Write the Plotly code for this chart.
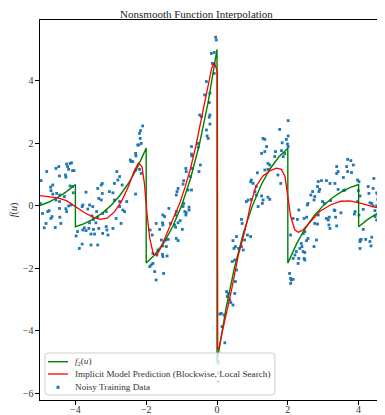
import plotly.graph_objects as go

# True nonsmooth function f2(u), sampled (duplicate u at jumps)
f2_u = [-5.0, -4.75, -4.5, -4.25, -4.0, -4.0, -3.75, -3.5, -3.25, -3.0, -2.75, -2.5, -2.25, -2.0,
        -2.0, -1.75, -1.5, -1.25, -1.0, -0.75, -0.5, -0.25, 0.0, 0.0, 0.25, 0.5, 0.75, 1.0, 1.25,
        1.5, 1.75, 2.0, 2.0, 2.25, 2.5, 2.75, 3.0, 3.25, 3.5, 3.75, 4.0, 4.0, 4.25, 4.5, 4.75, 5.0]
f2_val = [0.0, 0.116, 0.264, 0.448, 0.677, -0.677, -0.575, -0.434, -0.246, 0.0, 0.316, 0.716, 1.218, 1.839,
          -1.839, -1.563, -1.181, -0.669, 0.0, 0.859, 1.947, 3.309, 5.0, -5.0, -3.309, -1.947, -0.859, 0.0, 0.669,
          1.181, 1.563, 1.839, -1.839, -1.218, -0.716, -0.316, 0.0, 0.246, 0.434, 0.575, 0.677, -0.677, -0.448, -0.264, -0.116, 0.0]

# Implicit model prediction
pred_u = [-5.0, -4.75, -4.5, -4.25, -4.0, -3.75, -3.5, -3.3, -3.1, -2.9, -2.7, -2.5, -2.35, -2.22, -2.12,
          -2.05, -1.98, -1.9, -1.8, -1.7, -1.6, -1.5, -1.35, -1.2, -1.05, -0.9, -0.75, -0.6, -0.5, -0.35,
          -0.25, -0.15, -0.08, -0.03, 0.01, 0.02, 0.06, 0.12, 0.22, 0.4, 0.6, 0.8, 0.95, 1.1, 1.3, 1.5,
          1.68, 1.82, 1.92, 2.0, 2.08, 2.2, 2.3, 2.43, 2.67, 2.9, 3.2, 3.5, 3.75, 4.05, 4.4, 4.75, 5.0]
pred_val = [0.32, 0.29, 0.25, 0.16, -0.03, -0.22, -0.37, -0.44, -0.40, -0.2, 0.13, 0.62, 1.08, 1.36, 1.25,
            0.7, -0.24, -1.05, -1.55, -1.57, -1.38, -1.12, -0.7, -0.3, 0.08, 0.6, 1.18, 1.9, 2.45, 3.3,
            3.9, 4.4, 4.58, 4.45, 4.3, -4.62, -4.55, -4.19, -3.7, -2.75, -1.6, -0.75, 0.05, 0.62, 0.95, 1.12,
            1.2, 1.16, 0.93, 0.35, -0.35, -0.78, -0.85, -0.78, -0.46, -0.19, 0.02, 0.14, 0.15, 0.08, -0.03, -0.14, -0.2]

# Noisy training data
noisy_u = [
    -4.99, -4.97, -4.93, -4.88, -4.83, -4.81, -4.78, -4.74, -4.70, -4.69, -4.69, -4.66, -4.64, -4.64,
    -4.57, -4.55, -4.55, -4.53, -4.47, -4.45, -4.45, -4.45, -4.44, -4.44, -4.41, -4.31, -4.28, -4.27,
    -4.27, -4.25, -4.25, -4.22, -4.19, -4.19, -4.15, -4.15, -4.12, -4.11, -4.08, -4.08, -4.06, -4.04,
    -3.98, -3.94, -3.89, -3.81, -3.81, -3.79, -3.79, -3.75, -3.70, -3.70, -3.65, -3.62, -3.60, -3.60,
    -3.56, -3.56, -3.53, -3.51, -3.49, -3.49, -3.46, -3.42, -3.40, -3.37, -3.37, -3.37, -3.34, -3.34,
    -3.27, -3.27, -3.24, -3.24, -3.23, -3.23, -3.13, -3.13, -3.11, -3.08, -3.04, -2.94, -2.94, -2.90,
    -2.90, -2.85, -2.83, -2.80, -2.75, -2.75, -2.75, -2.71, -2.68, -2.66, -2.61, -2.55, -2.45, -2.43,
    -2.38, -2.30, -2.29, -2.30, -2.30, -2.24, -2.21, -2.19, -2.17, -2.19, -2.16, -2.14, -2.14, -2.10,
    -1.89, -1.83, -1.72, -1.81, -1.67, -1.70, -1.90, -1.81, -1.86, -1.76, -1.72,
    -0.04, -0.02, -0.16, -0.08, -0.13, -0.09, -0.08, -0.30, -0.35, -0.20, -0.22, -0.49, -0.44, -0.20,
    -0.22, -0.20, -0.30, -0.28, -0.25, -0.55, -0.53, -0.72, -0.72, -0.71, -0.88, -0.87, -0.70, -0.47,
    -0.51, -0.75, -0.94, -0.96, -0.82, -0.72, -1.10, -1.13, -1.15, -1.36, -0.96, -0.94, -0.79, -0.79,
    -0.87, -1.15, -1.17, -0.91, -0.88, -1.04, -1.10, -0.98, -1.53, -1.48, -1.54, -1.53, -1.62, -1.32,
    -1.20, -1.17, -1.15, -1.10, -1.38, -1.45, -1.57, -1.53, -1.43, -1.54, -1.53, -1.41, -1.51,
    1.30, 1.35, 1.40, 1.35, 1.26, 1.44, 1.49, 1.35, 1.44, 1.14, 0.97, 1.02, 0.95, 1.11, 1.07, 1.11,
    1.26, 1.30, 1.44, 1.49, 1.28, 0.88, 0.83, 0.97, 1.16, 0.69, 0.71, 0.55, 0.86, 0.95, 0.78, 0.45,
    0.52, 0.48, 0.61, 0.69, 0.74, 0.43, 0.50, 0.55, 0.52, 0.27, 0.31, 0.50, 0.29, 0.36, 0.45, 0.39,
    0.08, 0.12, 0.20, 0.14, 0.22, 0.03, 0.03, 0.03, 0.03,
    2.01, 1.77, 2.01, 1.96, 1.84, 1.99, 2.01, 1.65, 1.82, 1.63, 1.87, 1.91, 1.72, 1.80, 2.86, 2.95,
    3.09, 3.19, 2.84, 2.88, 2.76, 2.74, 2.65, 2.57, 2.55, 3.03, 2.31, 3.31, 2.15, 2.27, 2.46, 2.53,
    2.86, 3.09, 3.14, 2.76, 2.84, 3.16, 3.19, 2.48, 2.44, 2.08, 2.57, 2.53, 2.81, 2.38, 2.40, 2.34,
    2.74, 2.24, 2.20, 2.43, 2.48, 2.31, 2.29, 2.15, 2.46, 2.48, 2.05, 2.08, 2.10, 2.15, 2.08,
    2.70, 2.90, 2.98, 3.21, 3.17,
    3.69, 3.78, 3.85, 3.38, 3.42, 3.38, 3.66, 3.69, 3.80, 3.57, 3.97, 4.01, 3.33, 3.42, 3.57, 3.61,
    3.99, 4.04, 4.41, 4.29, 4.51, 4.54, 4.54, 4.32, 4.37, 4.65, 3.97, 3.33, 3.35, 3.50, 3.90, 3.88,
    4.01, 4.13, 4.41, 4.51, 4.46, 4.60, 4.54, 4.46, 4.51, 4.65, 4.70, 3.38, 4.13, 4.58, 4.04, 4.07,
    4.04, 4.20, 4.37, 4.32, 4.35, 4.04, 4.43, 4.27]
noisy_f = [
    0.07, 0.80, -0.25, -0.71, -0.57, 1.09, -0.19, -0.16, 0.59, 0.48, -0.41, -0.35, 0.66, 0.37,
    -0.70, 1.19, 0.18, 0.39, 1.25, 0.95, 0.13, -0.09, 0.34, -0.37, -0.57, 0.29, 0.98, 0.91,
    -0.10, 1.33, -0.19, 1.25, 1.16, -0.01, 1.35, 0.63, 0.02, 1.37, 1.12, 0.61, 0.41, 1.12,
    -0.97, -0.83, -1.37, -0.03, -1.23, 0.02, -0.78, -0.71, 0.43, -0.80, -0.11, -0.73, 0.02, -0.55,
    -0.91, -1.26, -0.33, -0.03, -0.44, -0.76, -0.91, -0.55, -0.19, 0.55, -0.37, -1.26, 0.23, -0.73,
    0.66, 0.18, 0.71, 0.39, -0.25, -0.89, -0.19, -0.67, -0.78, -0.94, 0.45, 0.41, -0.73, 0.71,
    0.18, -0.41, 1.09, 0.82, 0.93, 0.13, -0.03, -0.57, 0.66, -0.14, -0.19, 0.13, 1.46, 1.41,
    1.41, 1.67, 1.59, 1.14, 0.37, 1.94, 1.94, 2.31, 2.15, 1.16, 2.40, 1.99, 1.03, 2.55,
    -0.78, -0.94, -0.57, -1.53, -1.42, -1.58, -1.95, -1.85, -1.90, -2.11, -2.38,
    5.39, 5.30, 4.87, 4.90, 4.55, 4.53, 4.23, 3.97, 3.54, 3.60, 3.30, 2.90, 2.85, 2.90,
    2.83, 2.61, 2.42, 2.23, 2.15, 1.99, 1.87, 1.89, 1.65, 1.59, 1.19, 1.09, 1.19, 1.30,
    1.09, 0.93, 0.80, 0.69, 0.50, 0.50, 0.55, 0.45, 0.34, -0.09, -0.03, 0.07, -0.05, -0.14,
    -0.23, -0.19, -0.30, -0.19, -0.30, -0.48, -0.55, -0.76, -0.30, -0.35, -0.55, -0.62, -0.76, -0.57,
    -0.62, -0.69, -1.05, -1.12, -1.08, -1.10, -1.10, -1.29, -1.31, -1.56, -1.63, -1.61, -2.17,
    2.15, 2.12, 1.89, 1.73, 1.67, 1.35, 1.30, 1.14, 1.16, 1.05, 0.82, 0.71, 0.76, 0.61, 0.45, 0.34,
    0.31, 0.18, 0.27, 0.20, 0.07, 0.18, 0.13, 0.20, -0.03, -0.44, -0.57, -0.99, -0.94, -0.99, -1.10, -1.12,
    -1.31, -1.37, -1.37, -1.31, -1.42, -1.79, -1.74, -2.06, -2.43, -2.75, -2.81, -2.81, -2.91, -3.02, -3.18, -3.10,
    -3.47, -3.45, -3.50, -3.87, -4.39, -4.99, -5.04, -5.36, -5.63,
    2.72, 2.44, 2.23, 2.12, 2.01, 1.97, 1.89, 1.73, 1.76, 1.57, 1.57, 1.67, 0.98, 0.71, 0.77, 0.80,
    0.80, 0.71, 0.61, 0.45, 0.29, 0.18, 0.34, 0.07, 0.02, 0.07, -0.14, -0.14, -0.41, -0.44, -0.41, -0.37,
    -0.30, -0.41, -0.46, -0.57, -0.59, -0.62, -0.73, -0.83, -0.89, -0.94, -1.05, -1.12, -1.10, -1.21, -1.31, -1.37,
    -1.31, -1.47, -1.58, -1.47, -1.50, -1.69, -1.85, -1.69, -1.69, -1.74, -2.17, -2.33, -2.38, -2.36, -2.49,
    0.45, 0.52, 0.13, 0.16, -0.37,
    1.48, 1.44, 1.30, 1.25, 1.09, 1.03, 1.25, 1.09, 1.06, 0.90, 0.82, 0.77, 0.71, 0.52, 0.48, 0.50,
    0.48, 0.31, 0.55, 0.39, 0.41, 0.37, 0.20, 0.09, 0.07, 0.02, 0.13, -0.16, -0.37, -0.23, -0.19, -0.27,
    -0.30, -0.12, -0.01, -0.01, -0.16, -0.14, -0.30, -0.35, -0.46, -0.41, -0.67, -0.65, -0.76, -0.94, -1.10, -1.08,
    -1.15, -1.08, -1.01, -1.15, -1.29, -1.37, 0.87, 0.61]

x_ticks = [-4, -2, 0, 2, 4]
y_ticks = [-6, -4, -2, 0, 2, 4]

legend_labels = ["<i>f</i><sub>2</sub>(<i>u</i>)",
                 "Implicit Model Prediction (Blockwise, Local Search)",
                 "Noisy Training Data"]

SERIF = "Liberation Serif, DejaVu Serif, serif"
GREEN, RED, BLUE = "green", "red", "#1f77b4"

fig = go.Figure()
fig.add_trace(go.Scatter(
    x=noisy_u, y=noisy_f, mode="markers", name=legend_labels[2],
    marker=dict(color=BLUE, size=2.8, symbol="square", line=dict(width=0)), showlegend=False))
fig.add_trace(go.Scatter(
    x=f2_u, y=f2_val, mode="lines", name=legend_labels[0],
    line=dict(color=GREEN, width=1.4), showlegend=False))
fig.add_trace(go.Scatter(
    x=pred_u, y=pred_val, mode="lines", name=legend_labels[1],
    line=dict(color=RED, width=1.3), showlegend=False))

# Compact matplotlib-style legend box (lower left), drawn in paper coordinates
x0, x1, y0, y1 = 0.0145, 0.681, 0.0132, 0.1237
rx, ry = 0.009, 0.008
box_path = (f"M {x0+rx},{y0} L {x1-rx},{y0} Q {x1},{y0} {x1},{y0+ry} L {x1},{y1-ry} "
            f"Q {x1},{y1} {x1-rx},{y1} L {x0+rx},{y1} Q {x0},{y1} {x0},{y1-ry} "
            f"L {x0},{y0+ry} Q {x0},{y0} {x0+rx},{y0} Z")
shapes = [dict(type="path", path=box_path, xref="paper", yref="paper",
               fillcolor="rgba(255,255,255,0.8)", line=dict(color="#cfcfcf", width=1), layer="above")]
rows_y = [0.1008, 0.0684, 0.0334]
shapes.append(dict(type="line", xref="paper", yref="paper", x0=0.0232, x1=0.0812,
                   y0=rows_y[0], y1=rows_y[0], line=dict(color=GREEN, width=1.4), layer="above"))
shapes.append(dict(type="line", xref="paper", yref="paper", x0=0.0232, x1=0.0812,
                   y0=rows_y[1], y1=rows_y[1], line=dict(color=RED, width=1.3), layer="above"))
shapes.append(dict(type="rect", xref="paper", yref="paper", x0=0.0478, x1=0.0565,
                   y0=rows_y[2] - 0.004, y1=rows_y[2] + 0.004, fillcolor=BLUE,
                   line=dict(width=0), layer="above"))
annotations = [dict(text=t, xref="paper", yref="paper", x=0.0957, y=yy, xanchor="left",
                    yanchor="middle", showarrow=False,
                    font=dict(family=SERIF, size=9.2, color="#333"))
               for t, yy in zip(legend_labels, rows_y)]

# The page body has an 8px margin, so the figure is sized to fill the rest of the window.
fig.update_layout(
    width=377, height=407,
    margin=dict(l=32, r=0, t=12, b=15),
    paper_bgcolor="white", plot_bgcolor="white",
    font=dict(family=SERIF, size=10, color="#333"),
    title=dict(text="Nonsmooth Function Interpolation", x=0.5, xanchor="center",
               y=0.985, yanchor="middle", font=dict(family=SERIF, size=11, color="#222")),
    showlegend=False,
    shapes=shapes, annotations=annotations,
)
fig.update_xaxes(range=[-5, 4.745], tickvals=x_ticks, showgrid=False, zeroline=False,
                 showline=True, linecolor="black", linewidth=1.2, mirror=True, automargin=False,
                 ticks="outside", ticklen=3.5, tickwidth=1, tickcolor="black",
                 ticklabelstandoff=-4, tickfont=dict(size=10, color="#333"))
fig.update_yaxes(range=[-6.22, 5.94], tickvals=y_ticks, showgrid=False, zeroline=False,
                 showline=True, linecolor="black", linewidth=1.2, mirror=False, automargin=False,
                 ticks="outside", ticklen=3.5, tickwidth=1, tickcolor="black",
                 tickfont=dict(size=10, color="#333"),
                 title=dict(text="<i>f</i>(<i>u</i>)", standoff=3, font=dict(size=10, color="#333")))

fig.write_html("out.html")
